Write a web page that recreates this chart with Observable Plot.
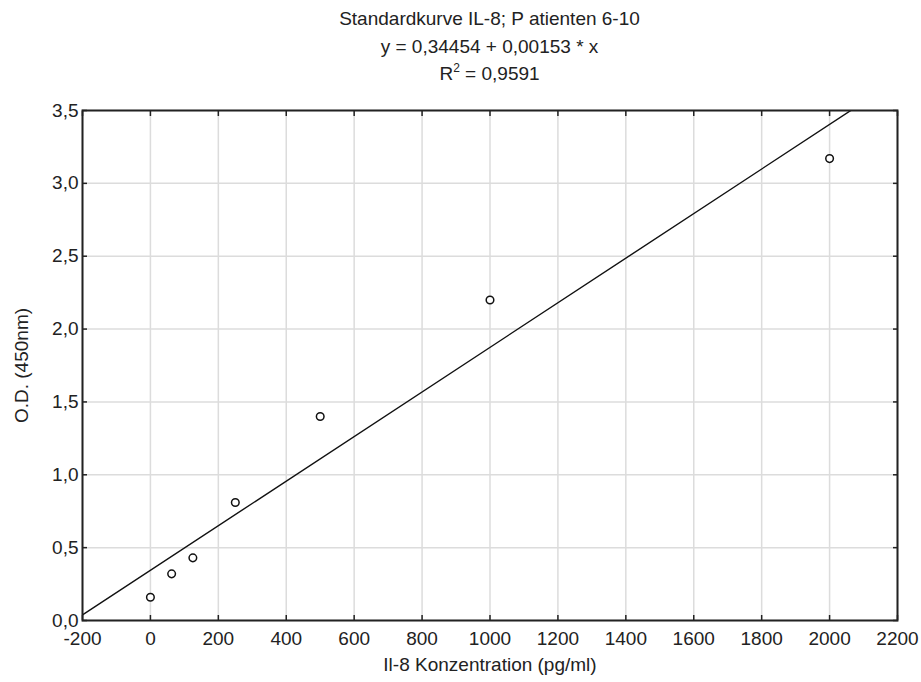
<!DOCTYPE html>
<html>
<head>
<meta charset="utf-8">
<script src="https://cdn.jsdelivr.net/npm/d3@7"></script>
<script src="https://cdn.jsdelivr.net/npm/@observablehq/plot@0.6"></script>
<style>
  body { margin: 0; background: #fff; font-family: "Liberation Sans", Arial, sans-serif; }
  #wrap { position: relative; width: 921px; height: 682px; }
  #title { position: absolute; top: 5px; left: 82px; width: 815px; text-align: center; font-size: 19px; line-height: 27.5px; color: #222; }
  #title sup { font-size: 12px; line-height: 0; vertical-align: 8px; }
</style>
</head>
<body>
<div id="wrap">
  <div id="chart"></div>
  <div id="title">
    <div>Standardkurve IL-8; P atienten 6-10</div>
    <div>y = 0,34454 + 0,00153 * x</div>
    <div>R<sup>2</sup> = 0,9591</div>
  </div>
</div>
<script>
// Data
const concentration = [0, 62.5, 125, 250, 500, 1000, 2000];
const od = [0.16, 0.32, 0.43, 0.81, 1.40, 2.20, 3.17];
const intercept = 0.34454;
const slope = 0.00153;
const xTicks = [-200, 0, 200, 400, 600, 800, 1000, 1200, 1400, 1600, 1800, 2000, 2200];
const yTicks = [0, 0.5, 1.0, 1.5, 2.0, 2.5, 3.0, 3.5];

const points = concentration.map((c, i) => ({x: c, y: od[i]}));
const fitLine = [-200, 2200].map(x => ({x, y: intercept + slope * x}));

const fmtY = d => d.toFixed(1).replace(".", ",");
const fmtX = d => String(d);

const chart = Plot.plot({
  width: 921,
  height: 682,
  marginLeft: 82,
  marginRight: 24,
  marginTop: 110,
  marginBottom: 62,
  style: {fontFamily: "'Liberation Sans', Arial, sans-serif", fontSize: "19px", color: "#222", background: "#fff"},
  x: {domain: [-200, 2200]},
  y: {domain: [0, 3.5]},
  marks: [
    Plot.gridX(xTicks, {stroke: "#dcdcdc", strokeOpacity: 1, strokeWidth: 1.5}),
    Plot.gridY(yTicks, {stroke: "#dcdcdc", strokeOpacity: 1, strokeWidth: 1.5}),
    Plot.axisX(xTicks, {anchor: "bottom", tickSize: 0, tickPadding: 11, tickFormat: fmtX, fontSize: 19,
      label: "Il-8 Konzentration (pg/ml)", labelAnchor: "center", labelArrow: "none", labelOffset: 50}),
    Plot.axisY(yTicks, {anchor: "left", tickSize: 0, tickPadding: 4, tickFormat: fmtY, fontSize: 19,
      label: "O.D. (450nm)", labelAnchor: "center", labelArrow: "none", labelOffset: 68}),
    Plot.axisX(xTicks, {anchor: "bottom", tickSize: -5, text: null, label: null, strokeWidth: 1.5}),
    Plot.axisX(xTicks, {anchor: "top", tickSize: -5, text: null, label: null, strokeWidth: 1.5}),
    Plot.axisY(yTicks, {anchor: "left", tickSize: -5, text: null, label: null, strokeWidth: 1.5}),
    Plot.axisY(yTicks, {anchor: "right", tickSize: -5, text: null, label: null, strokeWidth: 1.5}),
    Plot.line(fitLine, {x: "x", y: "y", stroke: "#111", strokeWidth: 1.4, clip: true}),
    Plot.dot(points, {x: "x", y: "y", r: 3.8, stroke: "#111", strokeWidth: 1.5, fill: "white"}),
    Plot.frame({stroke: "#222", strokeWidth: 2})
  ]
});
document.getElementById("chart").appendChild(chart);
</script>
</body>
</html>
